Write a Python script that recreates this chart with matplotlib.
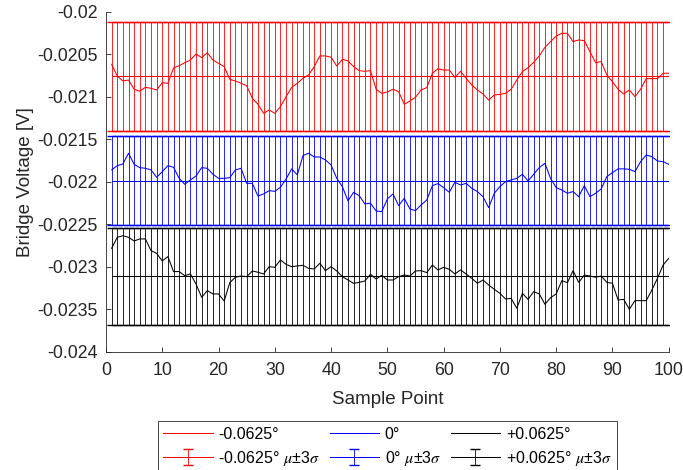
import numpy as np
import matplotlib.pyplot as plt
from matplotlib.ticker import FuncFormatter

plt.rcParams['font.family'] = ['Liberation Sans', 'DejaVu Sans']
plt.rcParams['mathtext.fontset'] = 'stix'

# Bridge voltage per sample point (mV) for each tilt angle
sample = np.arange(1, 101)

v_neg = [-20.616, -20.753, -20.812, -20.800, -20.909, -20.933, -20.886, -20.898, -20.917, -20.832,
         -20.839, -20.659, -20.632, -20.596, -20.565, -20.494, -20.537, -20.479, -20.565, -20.604,
         -20.643, -20.792, -20.812, -20.839, -20.867, -21.016, -21.086, -21.192, -21.153, -21.192,
         -21.113, -20.996, -20.886, -20.839, -20.780, -20.741, -20.643, -20.517, -20.517, -20.533,
         -20.636, -20.557, -20.576, -20.643, -20.690, -20.698, -20.690, -20.909, -20.957, -20.941,
         -20.909, -20.937, -21.086, -21.047, -21.004, -20.917, -20.890, -20.721, -20.667, -20.683,
         -20.683, -20.769, -20.698, -20.780, -20.859, -20.917, -20.965, -21.036, -20.976, -20.969,
         -20.957, -20.909, -20.800, -20.702, -20.655, -20.592, -20.517, -20.416, -20.349, -20.283,
         -20.251, -20.251, -20.349, -20.329, -20.337, -20.467, -20.596, -20.584, -20.741, -20.820,
         -20.909, -20.965, -20.917, -20.996, -20.909, -20.784, -20.784, -20.784, -20.721, -20.721]

v_zero = [-21.858, -21.808, -21.788, -21.662, -21.792, -21.831, -21.839, -21.858, -21.945, -21.878,
          -21.808, -21.827, -21.957, -22.027, -21.976, -21.929, -21.831, -21.839, -21.909, -21.957,
          -21.957, -21.949, -21.858, -21.839, -22.016, -22.016, -22.165, -22.141, -22.102, -22.110,
          -22.062, -21.965, -21.846, -21.917, -21.690, -21.662, -21.706, -21.706, -21.741, -21.800,
          -21.957, -22.054, -22.223, -22.121, -22.161, -22.258, -22.250, -22.341, -22.349, -22.200,
          -22.141, -22.278, -22.192, -22.317, -22.337, -22.270, -22.212, -22.043, -22.019, -22.066,
          -22.121, -22.004, -22.035, -22.016, -22.074, -22.113, -22.173, -22.302, -22.133, -22.054,
          -21.996, -21.976, -21.957, -21.909, -21.988, -21.909, -21.831, -21.780, -21.957, -22.066,
          -22.094, -22.133, -22.113, -22.173, -22.043, -22.173, -22.133, -22.082, -21.937, -21.890,
          -21.846, -21.846, -21.850, -21.878, -21.761, -21.682, -21.702, -21.753, -21.761, -21.792]

v_pos = [-22.780, -22.651, -22.632, -22.651, -22.694, -22.670, -22.670, -22.808, -22.840, -22.929,
         -22.878, -23.054, -23.054, -23.102, -23.082, -23.200, -23.357, -23.278, -23.317, -23.317,
         -23.400, -23.184, -23.121, -23.106, -23.114, -23.047, -23.062, -23.082, -22.996, -23.004,
         -22.917, -22.969, -22.996, -22.988, -22.980, -23.016, -23.024, -22.957, -23.043, -22.996,
         -23.047, -23.114, -23.153, -23.192, -23.181, -23.165, -23.086, -23.141, -23.098, -23.153,
         -23.153, -23.114, -23.094, -23.106, -23.047, -23.043, -23.066, -22.977, -23.035, -23.004,
         -23.027, -23.082, -23.035, -23.082, -23.133, -23.192, -23.153, -23.212, -23.262, -23.310,
         -23.377, -23.369, -23.486, -23.310, -23.381, -23.290, -23.317, -23.439, -23.361, -23.317,
         -23.161, -23.184, -23.043, -23.181, -23.094, -23.106, -23.121, -23.106, -23.181, -23.192,
         -23.388, -23.381, -23.498, -23.396, -23.396, -23.396, -23.271, -23.133, -22.977, -22.898]

labels = ['-0.0625°', '0°', '+0.0625°']
colors = ['#ff0000', '#0000ff', '#000000']
series = [np.array(v_neg) * 1e-3, np.array(v_zero) * 1e-3, np.array(v_pos) * 1e-3]

fig = plt.figure(figsize=(6.83, 4.70), dpi=100)
ax = fig.add_axes([0.1552, 0.2511, 0.8239, 0.7234])

lines = []
for y, c, lab in zip(series, colors, labels):
    l, = ax.plot(sample, y, color=c, lw=0.75, label=lab)
    lines.append(l)

# mean +/- 3 sigma band at every sample point
ebars = []
for y, c, lab in zip(series, colors, labels):
    mu = np.mean(y)
    s3 = 3 * np.std(y, ddof=1)
    eb = ax.errorbar(sample, np.full(len(sample), mu), yerr=np.full(len(sample), s3),
                     color=c, ecolor=c, lw=0.75, elinewidth=0.6, capsize=3.5, capthick=1.0,
                     label=lab + r' $\mu$±3$\sigma$')
    ebars.append(eb)

ax.set_xlim(0, 100)
ax.set_ylim(-0.024, -0.02)
ax.set_xticks(np.arange(0, 101, 10))
ax.set_yticks(np.linspace(-0.024, -0.02, 9))
ax.yaxis.set_major_formatter(FuncFormatter(lambda v, p: f'{v:g}'))

for side in ['top', 'right']:
    ax.spines[side].set_visible(False)
for side in ['left', 'bottom']:
    ax.spines[side].set_color('#262626')
    ax.spines[side].set_linewidth(0.6)
ax.tick_params(direction='in', length=3.5, width=0.6, colors='#262626', labelsize=12.8, pad=6)
ax.tick_params(axis='x', pad=7.5)

ax.set_xlabel('Sample Point', fontsize=13.5, color='#262626', labelpad=8)
ax.set_ylabel('Bridge Voltage [V]', fontsize=13.5, color='#262626', labelpad=2.5)

handles = [lines[0], ebars[0], lines[1], ebars[1], lines[2], ebars[2]]
leg = ax.legend(handles=handles, loc='upper center', bbox_to_anchor=(0.5, -0.203),
                ncol=3, fontsize=11.5, fancybox=False, edgecolor='#262626',
                handlelength=3.1, handletextpad=0.35, columnspacing=0.6,
                labelspacing=0.45, borderpad=0.35, borderaxespad=0, framealpha=1)
leg.get_frame().set_linewidth(0.6)

fig.savefig('out.png', dpi=100)
